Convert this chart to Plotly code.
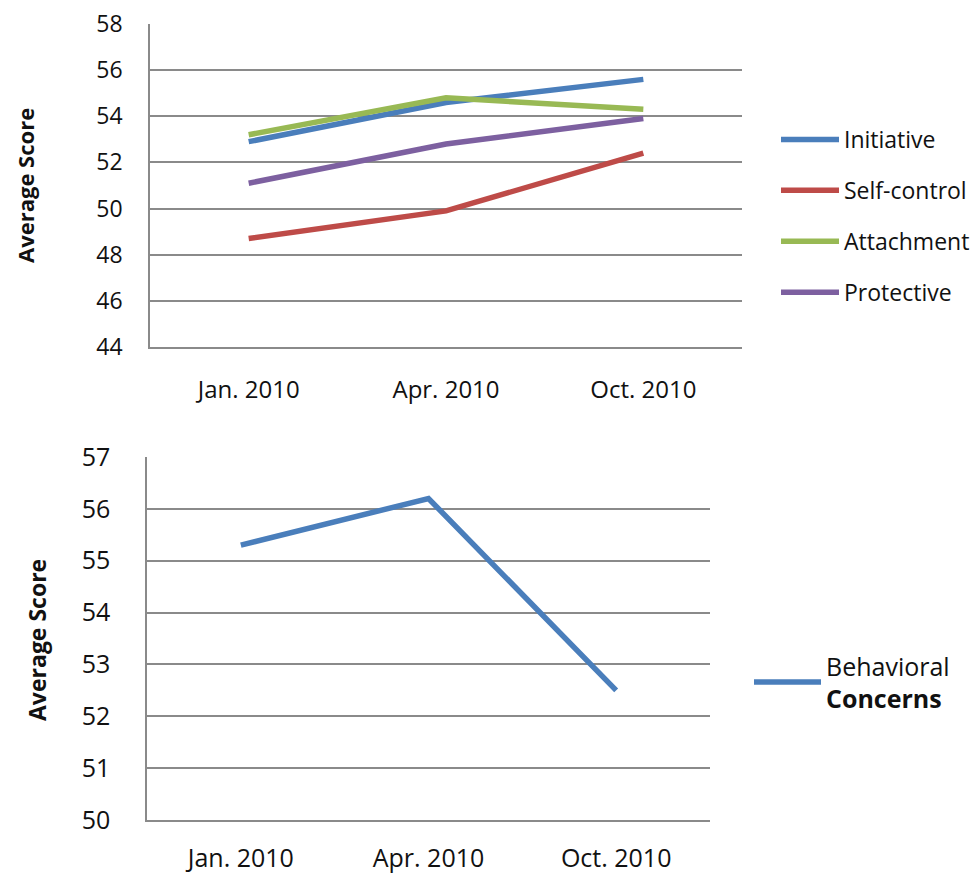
import plotly.graph_objects as go

categories = ["Jan. 2010", "Apr. 2010", "Oct. 2010"]
initiative = [52.9, 54.6, 55.6]
self_control = [48.7, 49.9, 52.4]
attachment = [53.2, 54.8, 54.3]
protective = [51.1, 52.8, 53.9]
behavioral = [55.3, 56.2, 52.5]

top_ticks = [44, 46, 48, 50, 52, 54, 56, 58]
bottom_ticks = [50, 51, 52, 53, 54, 55, 56, 57]

FONT = "Open Sans"
W, H = 980, 875
grid = "#8a8a8a"
txt = "#111111"

fig = go.Figure()
series = [
    ("Initiative", initiative, "#4a7ebb"),
    ("Self-control", self_control, "#be4b48"),
    ("Attachment", attachment, "#98b954"),
    ("Protective", protective, "#7d60a0"),
]
for name, vals, col in series:
    fig.add_trace(go.Scatter(x=categories, y=vals, mode="lines", name=name,
                             line=dict(color=col, width=5.5), legendgroup=name,
                             xaxis="x", yaxis="y", legend="legend"))

fig.add_trace(go.Scatter(x=categories, y=behavioral, mode="lines",
                         name="Behavioral<br><b>Concerns</b>",
                         line=dict(color="#4a7ebb", width=5.5),
                         xaxis="x2", yaxis="y2", legend="legend2"))

def px_x(p):
    return p / W

def px_y(p):
    return 1 - p / H

fig.update_layout(
    width=W, height=H, autosize=False,
    margin=dict(l=0, r=0, t=0, b=0, autoexpand=False),
    paper_bgcolor="white", plot_bgcolor="white",
    font=dict(family=FONT, color=txt),
    xaxis=dict(domain=[px_x(150), px_x(742)], anchor="y", type="category", automargin=False,
               range=[-0.5, 2.5], showgrid=False, showline=True, linecolor=grid, linewidth=1.5,
               ticks="outside", ticklen=20, tickcolor="rgba(0,0,0,0)",
               tickfont=dict(size=24, family=FONT, color=txt)),
    yaxis=dict(domain=[px_y(347), px_y(24)], anchor="x", range=[44, 58], automargin=False,
               tickvals=top_ticks, showgrid=True, gridcolor=grid, gridwidth=1.5,
               showline=True, linecolor=grid, linewidth=1.5, zeroline=False,
               ticks="outside", ticklen=21, tickcolor="rgba(0,0,0,0)",
               tickfont=dict(size=23, family=FONT, color=txt)),
    xaxis2=dict(domain=[px_x(147), px_x(710)], anchor="y2", type="category", automargin=False,
                range=[-0.5, 2.5], showgrid=False, showline=True, linecolor=grid, linewidth=1.5,
                ticks="outside", ticklen=15, tickcolor="rgba(0,0,0,0)",
                tickfont=dict(size=25, family=FONT, color=txt)),
    yaxis2=dict(domain=[px_y(820), px_y(457)], anchor="x2", range=[50, 57], automargin=False,
                tickvals=bottom_ticks, showgrid=True, gridcolor=grid, gridwidth=1.5,
                showline=True, linecolor=grid, linewidth=1.5, zeroline=False,
                ticks="outside", ticklen=30, tickcolor="rgba(0,0,0,0)",
                tickfont=dict(size=25, family=FONT, color=txt)),
    legend=dict(x=px_x(776), y=px_y(118), xanchor="left", yanchor="top",
                font=dict(size=23, family=FONT, color=txt),
                itemwidth=58, tracegroupgap=18, bgcolor="rgba(0,0,0,0)"),
    legend2=dict(x=px_x(749), y=px_y(643), xanchor="left", yanchor="top",
                 font=dict(size=25, family=FONT, color=txt),
                 itemwidth=67, bgcolor="rgba(0,0,0,0)"),
    showlegend=True,
    annotations=[
        dict(text="<b>Average Score</b>", x=px_x(25), y=px_y(186), xref="paper", yref="paper",
             xanchor="center", yanchor="middle",
             textangle=-90, showarrow=False, font=dict(size=22, family=FONT, color=txt)),
        dict(text="<b>Average Score</b>", x=px_x(37), y=px_y(640), xref="paper", yref="paper",
             xanchor="center", yanchor="middle",
             textangle=-90, showarrow=False, font=dict(size=23, family=FONT, color=txt)),
    ],
)

fig.write_html("out.html", config={"displayModeBar": False},
               post_script="document.body.style.margin='0';document.body.style.overflow='hidden';")
